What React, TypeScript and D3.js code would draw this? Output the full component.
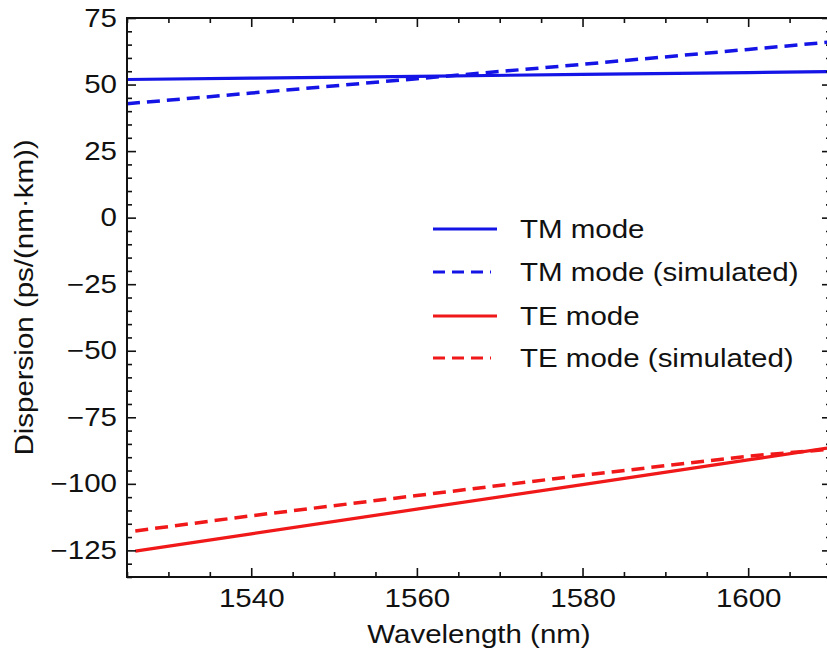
import React, { useEffect, useRef } from 'react';
import * as d3 from 'd3';

// values
const tmWavelengths = [1525, 1540, 1560, 1580, 1600, 1610];
const teWavelengths = [1526, 1540, 1560, 1580, 1600, 1610];
const tmMeasured = [51.9, 52.4, 53.1, 53.8, 54.5, 54.9];
const tmSimulated = [42.8, 46.8, 52.2, 57.6, 63.2, 66.0];
const teMeasured = [-125.3, -118.8, -109.5, -100.3, -91.0, -86.4];
const teSimulated = [-117.7, -112.0, -104.4, -96.8, -89.6, -87.0];

const seriesNames = ['TM mode', 'TM mode (simulated)', 'TE mode', 'TE mode (simulated)'];
const xTicks = [1540, 1560, 1580, 1600];
const yTicks = [75, 50, 25, 0, -25, -50, -75, -100, -125];

const W = 827;
const H = 656;
const left = 127;
const right = 831;
const top = 18;
const bottom = 577;
const BLUE = '#1414e6';
const RED = '#f01818';
const FONT = '"Liberation Sans", Arial, sans-serif';
const SX = 1.18; // the reference text is a bit wider than Arial
const DASH = '13,7';

const App = () => {
  const gRef = useRef<SVGGElement>(null);

  const x = d3.scaleLinear().domain([1525, 1610]).range([left, right]);
  const y = d3.scaleLinear().domain([-135, 75]).range([bottom, top]);

  const series = [
    { name: seriesNames[0], xs: tmWavelengths, ys: tmMeasured, color: BLUE, dash: null },
    { name: seriesNames[1], xs: tmWavelengths, ys: tmSimulated, color: BLUE, dash: DASH },
    { name: seriesNames[2], xs: teWavelengths, ys: teMeasured, color: RED, dash: null },
    { name: seriesNames[3], xs: teWavelengths, ys: teSimulated, color: RED, dash: DASH },
  ];

  const line = d3.line<[number, number]>()
    .x(d => x(d[0]))
    .y(d => y(d[1]));

  useEffect(() => {
    const g = d3.select(gRef.current);
    g.selectAll('*').remove();

    const minorX = d3.range(1525, 1611, 5).filter(v => !xTicks.includes(v));
    const minorY = d3.range(-135, 76, 5).filter(v => !yTicks.includes(v));
    const fmt = (d: any) => d3.format('d')(d);

    const styleAxis = (sel: any) => {
      sel.select('.domain').remove();
      sel.selectAll('line').attr('stroke', '#111').attr('stroke-width', 1.6);
      sel.selectAll('text')
        .style('font-family', FONT)
        .style('font-size', '25px')
        .attr('fill', '#111');
    };

    // bottom
    g.append('g').attr('transform', `translate(0,${bottom})`)
      .call(d3.axisBottom(x).tickValues(xTicks).tickSize(-9).tickPadding(12).tickFormat(fmt))
      .call(styleAxis)
      .selectAll('text').attr('transform', `scale(${SX},1)`);
    g.append('g').attr('transform', `translate(0,${bottom})`)
      .call(d3.axisBottom(x).tickValues(minorX).tickSize(-5).tickFormat(() => ''))
      .call(styleAxis);
    // top
    g.append('g').attr('transform', `translate(0,${top})`)
      .call(d3.axisTop(x).tickValues(xTicks).tickSize(-9).tickFormat(() => ''))
      .call(styleAxis);
    g.append('g').attr('transform', `translate(0,${top})`)
      .call(d3.axisTop(x).tickValues(minorX).tickSize(-5).tickFormat(() => ''))
      .call(styleAxis);
    // left
    g.append('g').attr('transform', `translate(${left},0)`)
      .call(d3.axisLeft(y).tickValues(yTicks).tickSize(-9).tickPadding(8.5).tickFormat(fmt))
      .call(styleAxis)
      .selectAll('text').attr('transform', `scale(${SX},1)`);
    g.append('g').attr('transform', `translate(${left},0)`)
      .call(d3.axisLeft(y).tickValues(minorY).tickSize(-5).tickFormat(() => ''))
      .call(styleAxis);
    // right
    g.append('g').attr('transform', `translate(${right},0)`)
      .call(d3.axisRight(y).tickValues(yTicks).tickSize(-9).tickFormat(() => ''))
      .call(styleAxis);
    g.append('g').attr('transform', `translate(${right},0)`)
      .call(d3.axisRight(y).tickValues(minorY).tickSize(-5).tickFormat(() => ''))
      .call(styleAxis);
  }, []);

  const legendX = 433;
  const legendY = [229, 272, 316, 358];

  return (
    <svg width={W} height={H} style={{ position: 'absolute', left: 0, top: 0, background: '#fff' }}>
      <defs>
        <clipPath id="plot">
          <rect x={left} y={top} width={right - left} height={bottom - top} />
        </clipPath>
      </defs>
      <g clipPath="url(#plot)">
        {series.map(s => (
          <path
            key={s.name}
            d={line(s.xs.map((v, i) => [v, s.ys[i]] as [number, number])) || ''}
            fill="none"
            stroke={s.color}
            strokeWidth={s.dash ? 3.5 : 3.2}
            strokeDasharray={s.dash || undefined}
          />
        ))}
      </g>
      <rect x={left} y={top} width={right - left} height={bottom - top}
        fill="none" stroke="#111" strokeWidth={2} />
      <g ref={gRef} />

      {series.map((s, i) => (
        <g key={'leg' + i}>
          <line x1={legendX} x2={legendX + (s.dash ? 58 : 64)} y1={legendY[i]} y2={legendY[i]}
            stroke={s.color} strokeWidth={3.2} strokeDasharray={s.dash ? '12,7' : undefined} />
          <text transform={`translate(520,${legendY[i]}) scale(${SX},1)`} dy="0.36em"
            style={{ fontFamily: FONT, fontSize: 25 }} fill="#111">{s.name}</text>
        </g>
      ))}

      <text transform={`translate(${(left + right) / 2},643) scale(${SX},1)`} textAnchor="middle"
        style={{ fontFamily: FONT, fontSize: 25 }} fill="#111">Wavelength (nm)</text>
      <text transform={`translate(33,${(top + bottom) / 2}) rotate(-90) scale(${SX},1)`} textAnchor="middle"
        style={{ fontFamily: FONT, fontSize: 25 }} fill="#111">Dispersion (ps/(nm·km))</text>
    </svg>
  );
};

export default App;
